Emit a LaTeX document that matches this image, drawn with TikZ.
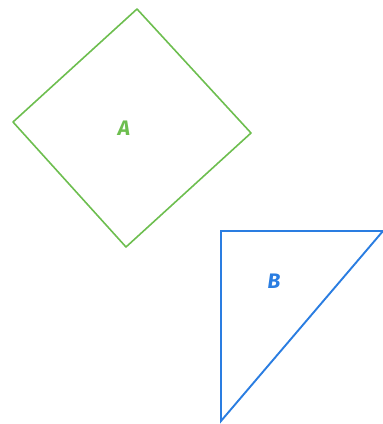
\documentclass[tikz,border=0pt]{standalone}
\usepackage{fontspec}
\setmainfont{Fira Sans}
\definecolor{sqgreen}{HTML}{6DBE4F}
\definecolor{trblue}{HTML}{2A7DE1}
\begin{document}
\begin{tikzpicture}[x=1pt,y=-1pt,
  shapeA/.style={draw=sqgreen,line width=1.6pt,line join=round},
  shapeB/.style={draw=trblue,line width=1.9pt,line join=miter},
  lab/.style={font=\fontsize{21}{21}\selectfont\bfseries\itshape}]
\useasboundingbox (0,0) rectangle (383,424);
\coordinate (a1) at (137,9);
\coordinate (a2) at (251,133);
\coordinate (a3) at (126,247);
\coordinate (a4) at (13,122);
\draw[shapeA] (a1) -- (a2) -- (a3) -- (a4) -- cycle;
\node[lab,text=sqgreen] (la) at (124,128) {A};
\coordinate (b1) at (221,231);
\coordinate (b2) at (383,231);
\coordinate (b3) at (221,421);
\draw[shapeB] (b1) -- (b2) -- (b3) -- cycle;
\node[lab,text=trblue] (lb) at (274,281) {B};
\end{tikzpicture}
\end{document}
